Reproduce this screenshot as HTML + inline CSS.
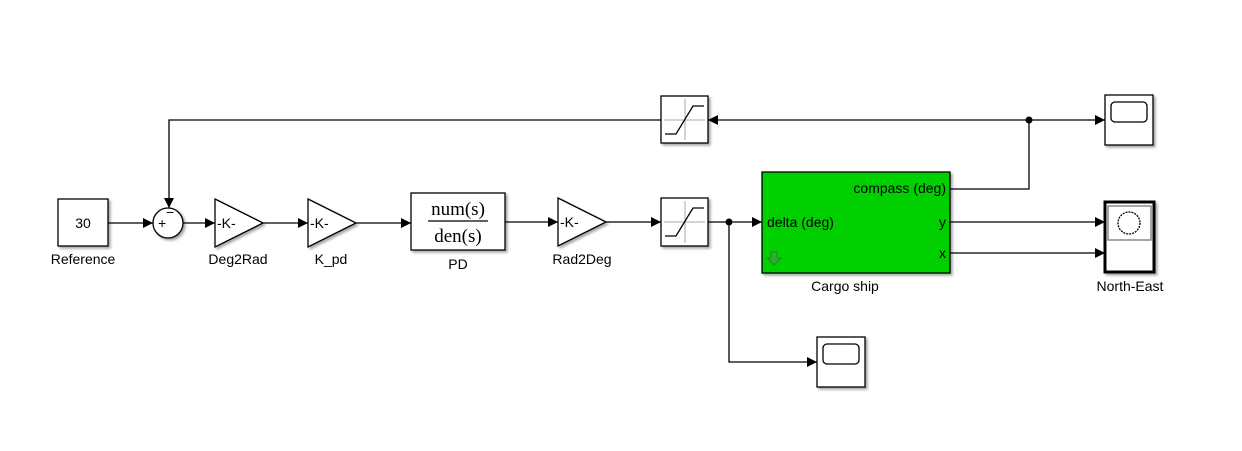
<!DOCTYPE html>
<html><head><meta charset="utf-8"><style>
html,body{margin:0;padding:0;background:#fff;width:1242px;height:451px;overflow:hidden}
text{font-family:"Liberation Sans",sans-serif;font-size:14px;fill:#000}
</style></head><body>
<svg width="1242" height="451" viewBox="0 0 1242 451" xmlns="http://www.w3.org/2000/svg">
<defs>
<marker id="a" markerWidth="10" markerHeight="10" refX="10" refY="5" orient="auto" markerUnits="userSpaceOnUse"><path d="M0,0 L10,5 L0,10 z" fill="#000"/></marker>
<filter id="s" x="-10%" y="-10%" width="130%" height="130%"><feDropShadow dx="2" dy="2" stdDeviation="1.2" flood-color="#000" flood-opacity="0.35"/></filter>
</defs>
<g stroke="#000" stroke-width="1.3" fill="none">
<line x1="108" y1="223" x2="153" y2="223" marker-end="url(#a)"/>
<line x1="183" y1="223" x2="215" y2="223" marker-end="url(#a)"/>
<line x1="263" y1="223" x2="308" y2="223" marker-end="url(#a)"/>
<line x1="356" y1="223" x2="411" y2="223" marker-end="url(#a)"/>
<line x1="505" y1="222" x2="558" y2="222" marker-end="url(#a)"/>
<line x1="606" y1="222" x2="661" y2="222" marker-end="url(#a)"/>
<line x1="708" y1="222" x2="762" y2="222" marker-end="url(#a)"/>
<polyline points="729,222 729,362 817,362" marker-end="url(#a)"/>
<polyline points="950,189 1029,189 1029,120"/>
<line x1="1029" y1="120" x2="1105" y2="120" marker-end="url(#a)"/>
<line x1="1029" y1="120" x2="708" y2="120" marker-end="url(#a)"/>
<polyline points="661,120 169,120 169,208" marker-end="url(#a)"/>
<line x1="950" y1="222" x2="1105" y2="222" marker-end="url(#a)"/>
<line x1="950" y1="253" x2="1105" y2="253" marker-end="url(#a)"/>
</g>
<circle cx="729" cy="222" r="3.5"/><circle cx="1029" cy="120" r="3.5"/>
<g stroke="#000" stroke-width="1.3" fill="#fff" filter="url(#s)">
<rect x="58" y="199" width="50" height="47"/>
<circle cx="168" cy="223" r="15"/>
<polygon points="215,199 263,223 215,247"/>
<polygon points="308,199 356,223 308,247"/>
<rect x="411" y="193" width="94" height="57"/>
<polygon points="558,198 606,222 558,246"/>
<rect x="661" y="198" width="47" height="48"/>
<rect x="661" y="96" width="47" height="47"/>
<rect x="762" y="172" width="188" height="101" fill="#00d000"/>
<rect x="1105" y="95" width="48" height="50"/>
<rect x="817" y="337" width="48" height="50"/>
<rect x="1105" y="202" width="49" height="70" stroke-width="3"/>
</g>
<g stroke="#000" stroke-width="1.3" fill="none">
<rect x="1111" y="102" width="36" height="20" rx="4"/>
<rect x="823" y="344" width="36" height="20" rx="4"/>
<rect x="1108" y="206" width="43" height="34" stroke="#777"/>
<circle cx="1129" cy="223" r="11" stroke-dasharray="2,1"/>
</g>
<g stroke="#aaa" stroke-width="1"><line x1="685" y1="201" x2="685" y2="243"/><line x1="664" y1="222" x2="705" y2="222"/><line x1="685" y1="99" x2="685" y2="140"/><line x1="664" y1="120" x2="705" y2="120"/></g>
<g stroke="#000" stroke-width="1.3" fill="none"><polyline points="665,236 676,236 693,208 704,208"/><polyline points="665,134 676,134 693,106 704,106"/></g>
<line x1="428" y1="221" x2="488" y2="221" stroke="#000" stroke-width="1.3"/>
<g stroke="#1e8a1e" fill="#2fae2f" stroke-width="1"><path d="M771,252 h6 v6 h4 l-7,7 l-7,-7 h4 z"/></g>
<text x="83" y="228" text-anchor="middle">30</text>
<text x="83" y="264" text-anchor="middle">Reference</text>
<text x="158" y="228" font-size="10">+</text>
<text x="166" y="217" font-size="12">−</text>
<text x="217" y="228">-K-</text>
<text x="310" y="228">-K-</text>
<text x="560" y="227">-K-</text>
<text x="238" y="264" text-anchor="middle">Deg2Rad</text>
<text x="331" y="264" text-anchor="middle">K_pd</text>
<text x="582" y="264" text-anchor="middle">Rad2Deg</text>
<text x="458" y="215" text-anchor="middle" style="font-family:'Liberation Serif',serif;font-size:19px">num(s)</text>
<text x="458" y="242" text-anchor="middle" style="font-family:'Liberation Serif',serif;font-size:19px">den(s)</text>
<text x="458" y="269" text-anchor="middle">PD</text>
<text x="767" y="227" font-size="13">delta (deg)</text>
<text x="946" y="193" font-size="13" text-anchor="end">compass (deg)</text>
<text x="946" y="227" font-size="13" text-anchor="end">y</text>
<text x="946" y="258" font-size="13" text-anchor="end">x</text>
<text x="845" y="291" text-anchor="middle">Cargo ship</text>
<text x="1130" y="291" text-anchor="middle">North-East</text>
</svg>
</body></html>
